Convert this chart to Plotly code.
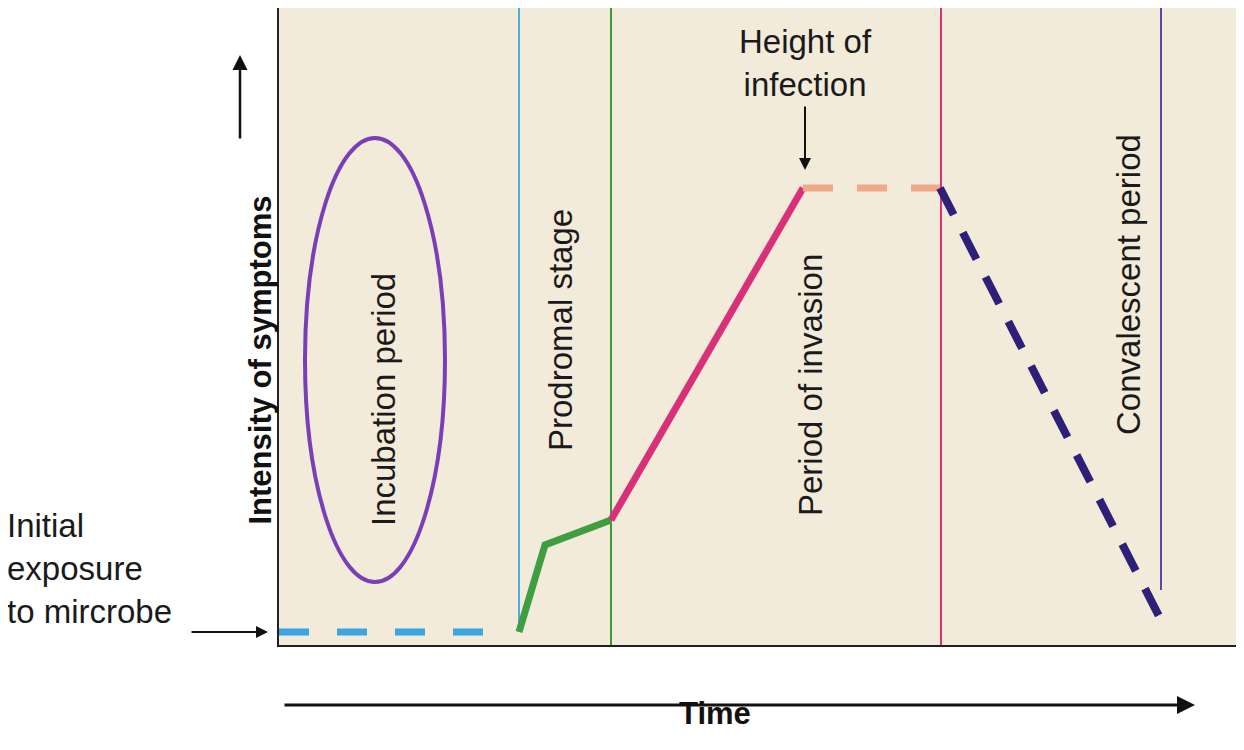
import plotly.graph_objects as go

# coordinates in chart units (time on x, intensity on y)
incub_x = [0, 231]
incub_y = [13, 13]
prodromal_x = [240, 266, 332]
prodromal_y = [13, 100, 125]
invasion_x = [332, 524]
invasion_y = [125, 457]
height_x = [524, 661]
height_y = [457, 457]
conval_x = [661, 881]
conval_y = [457, 27]

stage_lines = [(240, '#4aaee0', 13), (332, '#3a9a3a', 0), (662, '#d9337e', 0), (882, '#6a3fb0', 55)]
stage_labels = [("Incubation period", 104, 245), ("Prodromal stage", 281, 315),
                ("Period of invasion", 531, 260), ("Convalescent period", 849, 360)]

XMAX, YMAX = 965, 637
font = dict(family="Liberation Sans, Arial, sans-serif", size=33, color="#1a1a1a")


def px(x):
    return x / XMAX


def py(y):
    return y / YMAX


fig = go.Figure()
fig.add_trace(go.Scatter(x=incub_x, y=incub_y, mode='lines',
                         line=dict(color='#3aa6e2', width=7, dash='30px,28px')))
fig.add_trace(go.Scatter(x=prodromal_x, y=prodromal_y, mode='lines',
                         line=dict(color='#3f9e3f', width=7)))
fig.add_trace(go.Scatter(x=invasion_x, y=invasion_y, mode='lines',
                         line=dict(color='#d9307a', width=7)))
fig.add_trace(go.Scatter(x=height_x, y=height_y, mode='lines',
                         line=dict(color='#f0a888', width=7, dash='30px,24px')))
fig.add_trace(go.Scatter(x=conval_x, y=conval_y, mode='lines',
                         line=dict(color='#2e1f78', width=8, dash='30px,20px')))

for x, c, y0 in stage_lines:
    fig.add_shape(type='line', x0=x, x1=x, y0=y0, y1=YMAX, line=dict(color=c, width=2), layer='below')

fig.add_shape(type='circle', x0=26, x1=166, y0=63, y1=507, line=dict(color='#7a3fb8', width=4))

bold = dict(family=font['family'], size=31, color='#111')
annotations = []
for txt, x, y in stage_labels:
    annotations.append(dict(x=x, y=y, text=txt, textangle=-90, showarrow=False, font=font))
annotations += [
    dict(x=526, y=582, text="Height of<br>infection", showarrow=False, font=font),
    dict(x=526, y=475, ax=0, ay=-65, text='', showarrow=True,
         arrowhead=2, arrowsize=1.2, arrowwidth=2, arrowcolor='#111'),
    dict(xref='paper', yref='paper', x=px(-274), y=py(13), text="Initial<br>exposure<br>to mircrobe",
         showarrow=False, xanchor='left', align='left', font=font),
    dict(xref='paper', yref='paper', x=px(-11), y=py(13), ax=-78, ay=0, text='', showarrow=True,
         arrowhead=2, arrowsize=1.2, arrowwidth=2, arrowcolor='#111'),
    dict(xref='paper', yref='paper', x=px(-39), y=py(285), text="<b>Intensity of symptoms</b>",
         textangle=-90, showarrow=False, font=bold),
    dict(xref='paper', yref='paper', x=px(-39), y=py(590), ax=0, ay=85, text='', showarrow=True,
         arrowhead=2, arrowsize=1.2, arrowwidth=2.5, arrowcolor='#111'),
    dict(xref='paper', yref='paper', x=px(916), y=py(-60), ax=-912, ay=0, text='', showarrow=True,
         arrowhead=2, arrowsize=1.2, arrowwidth=3, arrowcolor='#111'),
    dict(xref='paper', yref='paper', x=px(436), y=py(-88), text="<b>Time</b>", showarrow=False, font=bold),
]

fig.update_layout(
    width=1236, height=742, margin=dict(l=271, r=0, t=0, b=105),
    paper_bgcolor='white', plot_bgcolor='#f3ebd9', showlegend=False,
    annotations=annotations,
    xaxis=dict(range=[0, XMAX], showgrid=False, zeroline=False, showticklabels=False,
               showline=True, linecolor='#222', linewidth=2, ticks=''),
    yaxis=dict(range=[0, YMAX], showgrid=False, zeroline=False, showticklabels=False,
               showline=True, linecolor='#222', linewidth=2, ticks=''),
)
fig.write_html("out.html")
